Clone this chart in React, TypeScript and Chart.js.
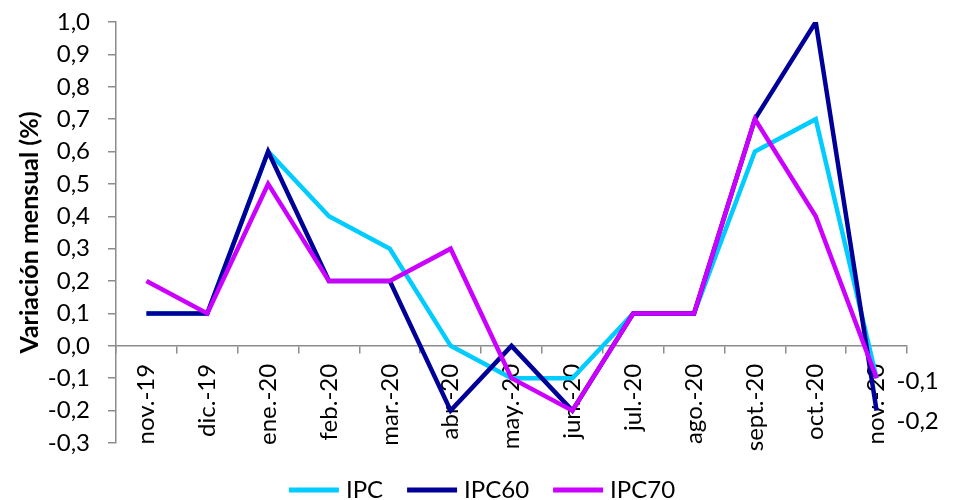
import React, { useEffect, useRef } from "react";
import { Chart, registerables } from "chart.js";

Chart.register(...registerables);

const categories = [
  "nov.-19", "dic.-19", "ene.-20", "feb.-20", "mar.-20", "abr.-20", "may.-20",
  "jun.-20", "jul.-20", "ago.-20", "sept.-20", "oct.-20", "nov.-20",
];
const ipc = [0.1, 0.1, 0.6, 0.4, 0.3, 0.0, -0.1, -0.1, 0.1, 0.1, 0.6, 0.7, -0.1];
const ipc60 = [0.1, 0.1, 0.6, 0.2, 0.2, -0.2, 0.0, -0.2, 0.1, 0.1, 0.7, 1.0, -0.2];
const ipc70 = [0.2, 0.1, 0.5, 0.2, 0.2, 0.3, -0.1, -0.2, 0.1, 0.1, 0.7, 0.4, -0.1];
const seriesNames = ["IPC", "IPC60", "IPC70"];
const endLabelSeries = ["IPC", "IPC60"];
const yMin = -0.3;
const yMax = 1.0;
const yStep = 0.1;

const COLORS = ["#00CCFF", "#000099", "#CC00FF"];
const FONT = "Lato, 'Liberation Sans', sans-serif";
const fmt = (v: number) => v.toFixed(1).replace(".", ",").replace("-0,0", "0,0");

const endLabelsPlugin = {
  id: "endLabels",
  afterDatasetsDraw(chart: any) {
    const ctx = chart.ctx;
    const nudges = [3, 11];
    ctx.save();
    ctx.font = `24px ${FONT}`;
    ctx.fillStyle = "#000";
    ctx.textAlign = "left";
    ctx.textBaseline = "middle";
    let k = 0;
    chart.data.datasets.forEach((ds: any, i: number) => {
      if (!endLabelSeries.includes(ds.label)) return;
      const meta = chart.getDatasetMeta(i);
      const last = meta.data[meta.data.length - 1];
      const v = ds.data[ds.data.length - 1];
      ctx.fillText(fmt(v), last.x + 20, last.y + (nudges[k] || 0));
      k++;
    });
    ctx.restore();
  },
};

const legendPlugin = {
  id: "customLegend",
  afterDraw(chart: any) {
    const ctx = chart.ctx;
    ctx.save();
    ctx.font = `24px ${FONT}`;
    const sample = 50;
    const gapText = 7;
    const gapItem = 24;
    const items = chart.data.datasets.map((ds: any) => ({
      label: ds.label,
      color: ds.borderColor,
      w: ctx.measureText(ds.label).width,
    }));
    const total =
      items.reduce((s: number, it: any) => s + sample + gapText + it.w, 0) +
      gapItem * (items.length - 1);
    let x = chart.width / 2 + 5 - total / 2;
    const y = 490;
    ctx.textBaseline = "middle";
    ctx.textAlign = "left";
    items.forEach((it: any) => {
      ctx.strokeStyle = it.color;
      ctx.lineWidth = 5;
      ctx.beginPath();
      ctx.moveTo(x, y);
      ctx.lineTo(x + sample, y);
      ctx.stroke();
      ctx.fillStyle = "#000";
      ctx.fillText(it.label, x + sample + gapText, y);
      x += sample + gapText + it.w + gapItem;
    });
    ctx.restore();
  },
};

export default function App() {
  const ref = useRef<HTMLCanvasElement | null>(null);
  useEffect(() => {
    if (!ref.current) return;
    const seriesData = [ipc, ipc60, ipc70];
    const chart = new Chart(ref.current, {
      type: "line",
      data: {
        labels: categories,
        datasets: seriesNames.map((name, i) => ({
          label: name,
          data: seriesData[i],
          borderColor: COLORS[i],
          backgroundColor: COLORS[i],
          borderWidth: 4.5,
          pointRadius: 0,
          tension: 0,
          order: 2 - i,
        })),
      },
      options: {
        responsive: false,
        animation: false,
        devicePixelRatio: 1,
        layout: { padding: { top: 22, bottom: 57, right: 47, left: 0 } },
        plugins: {
          legend: { display: false },
          tooltip: { enabled: false },
        },
        scales: {
          x: {
            type: "category",
            position: { y: 0 } as any,
            offset: true,
            border: { display: true, color: "#8c8c8c", width: 1.5 },
            grid: {
              display: true,
              drawOnChartArea: false,
              drawTicks: true,
              tickLength: 7,
              offset: true,
              color: "#8c8c8c",
              lineWidth: 1.5,
            },
            ticks: {
              minRotation: 90,
              maxRotation: 90,
              autoSkip: false,
              padding: 11,
              color: "#000",
              font: { family: FONT, size: 24 },
            },
            afterFit: (scale: any) => {
              scale.paddingTop = 0;
              scale.paddingBottom = 0;
              scale.paddingLeft = 0;
              scale.paddingRight = 0;
            },
          },
          y: {
            min: yMin,
            max: yMax,
            border: { display: true, color: "#8c8c8c", width: 1.5 },
            grid: {
              display: true,
              drawOnChartArea: false,
              drawTicks: true,
              tickLength: 8,
              color: "#8c8c8c",
              lineWidth: 1.5,
            },
            ticks: {
              stepSize: yStep,
              padding: 18,
              color: "#000",
              font: { family: FONT, size: 24 },
              callback: (v: any) => fmt(Number(v)),
            },
            title: {
              display: true,
              text: "Variación mensual (%)",
              color: "#000",
              font: { family: FONT, size: 25, weight: "bold" },
              padding: { top: 15, bottom: 0 },
            },
            afterFit: (scale: any) => {
              scale.width = 116;
              scale.paddingTop = 0;
              scale.paddingBottom = 0;
            },
          },
        },
      },
      plugins: [endLabelsPlugin, legendPlugin],
    });
    return () => chart.destroy();
  }, []);
  return (
    <div style={{ position: "absolute", left: 0, top: 0, width: 954, height: 500, background: "#fff" }}>
      <canvas ref={ref} width={954} height={500} />
    </div>
  );
}
